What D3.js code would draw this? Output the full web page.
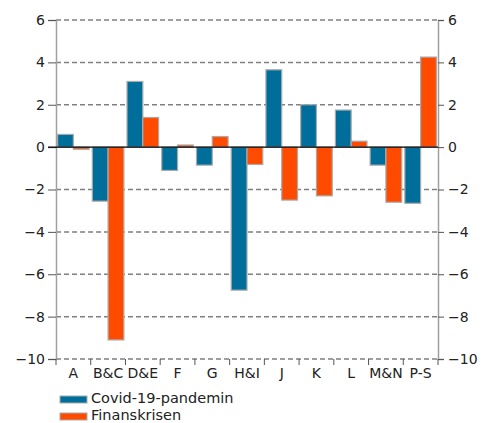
<!DOCTYPE html>
<html>
<head>
<meta charset="utf-8">
<script src="https://cdn.jsdelivr.net/npm/d3@7"></script>
<style>
  body { margin: 0; background: #fff; }
  text { font-family: "DejaVu Sans", Verdana, sans-serif; }
</style>
</head>
<body>
<div id="chart"></div>
<script>
var categories = ["A", "B&C", "D&E", "F", "G", "H&I", "J", "K", "L", "M&N", "P-S"]
var covid = [0.6, -2.55, 3.1, -1.1, -0.85, -6.75, 3.65, 2.0, 1.75, -0.85, -2.65]
var finans = [-0.1, -9.1, 1.4, 0.1, 0.5, -0.82, -2.5, -2.3, 0.28, -2.6, 4.25]
var seriesNames = ["Covid-19-pandemin", "Finanskrisen"]
var yTicks = [-10, -8, -6, -4, -2, 0, 2, 4, 6]

var colors = ["#006e9b", "#ff4b00"]
var axisFont = "14px"
var legendFont = "14.5px"

var width = 486, height = 423
// plot edges (window.top is reserved, so not called "top")
var plotLeft = 56, plotRight = 438, plotTop = 20, plotBottom = 359

var svg = d3.select("#chart")
  .append("svg")
  .attr("width", width)
  .attr("height", height)

var x = d3.scaleBand().domain(categories).range([plotLeft, plotRight])
var y = d3.scaleLinear().domain([-10, 6]).range([plotBottom, plotTop])

// dashed grid lines
svg.append("g")
  .selectAll("line")
  .data(yTicks.filter(function (d) { return d != 0 }))
  .enter()
  .append("line")
  .attr("x1", plotLeft)
  .attr("x2", plotRight)
  .attr("y1", function (d) { return y(d) })
  .attr("y2", function (d) { return y(d) })
  .style("stroke", "#808080")
  .style("stroke-width", "1.5px")
  .style("stroke-dasharray", "5,3")

// left and right axes
var yLeft = svg.append("g")
  .attr("transform", "translate(" + plotLeft + ",0)")
  .call(d3.axisLeft(y).tickValues(yTicks).tickSize(8).tickPadding(3))
var yRight = svg.append("g")
  .attr("transform", "translate(" + plotRight + ",0)")
  .call(d3.axisRight(y).tickValues(yTicks).tickSize(6).tickPadding(4))

;[yLeft, yRight].forEach(function (ax) {
  ax.select(".domain").style("stroke", "#a0a0a0").style("stroke-width", "1.5px")
  ax.selectAll(".tick line").style("stroke", "#555")
  ax.selectAll("text").style("font-size", axisFont).style("fill", "#222")
    .style("font-family", "DejaVu Sans, Verdana, sans-serif")
})

// x axis ticks at category boundaries
var bounds = categories.map(function (c) { return x(c) }).concat([plotRight])
svg.append("g")
  .selectAll("line")
  .data(bounds)
  .enter()
  .append("line")
  .attr("x1", function (d) { return d })
  .attr("x2", function (d) { return d })
  .attr("y1", plotBottom)
  .attr("y2", plotBottom + 6)
  .style("stroke", "#555")

svg.append("g")
  .selectAll("text")
  .data(categories)
  .enter()
  .append("text")
  .attr("x", function (d) { return x(d) + x.bandwidth() / 2 })
  .attr("y", plotBottom + 19)
  .attr("text-anchor", "middle")
  .style("font-size", axisFont)
  .style("fill", "#222")
  .text(function (d) { return d })

// bars
var inner = d3.scaleBand().domain([0, 1]).range([0, x.bandwidth()]).paddingOuter(0.1)
var series = [covid, finans]
series.forEach(function (vals, si) {
  svg.append("g")
    .selectAll("rect")
    .data(vals)
    .enter()
    .append("rect")
    .attr("x", function (d, i) { return x(categories[i]) + inner(si) })
    .attr("width", inner.bandwidth())
    .attr("y", function (d) { return Math.min(y(d), y(0)) })
    .attr("height", function (d) { return Math.abs(y(d) - y(0)) })
    .style("fill", colors[si])
    .style("stroke", "#aaaaaa")
    .style("stroke-width", "1.2px")
})

// zero line
svg.append("line")
  .attr("x1", plotLeft - 8)
  .attr("x2", plotRight)
  .attr("y1", y(0))
  .attr("y2", y(0))
  .style("stroke", "#000")
  .style("stroke-width", "1.3px")

// legend
var legend = svg.append("g")
  .selectAll("g")
  .data(seriesNames)
  .enter()
  .append("g")
  .attr("transform", function (d, i) { return "translate(60," + (396 + i * 17) + ")" })

legend.append("rect")
  .attr("width", 27)
  .attr("height", 7)
  .style("fill", function (d, i) { return colors[i] })
  .style("stroke", "#aaaaaa")

legend.append("text")
  .attr("x", 31)
  .attr("y", 7)
  .style("font-size", legendFont)
  .style("fill", "#222")
  .text(function (d) { return d })
</script>
</body>
</html>
